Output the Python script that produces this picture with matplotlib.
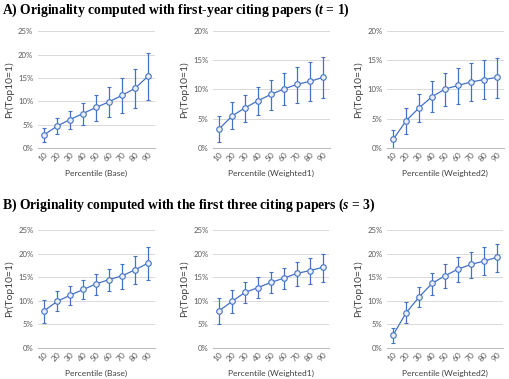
import matplotlib
matplotlib.use("Agg")
import matplotlib.pyplot as plt
from matplotlib.ticker import FuncFormatter
import numpy as np

plt.rcParams['font.family'] = ['Lato', 'DejaVu Sans']
plt.rcParams['mathtext.fontset'] = 'custom'
plt.rcParams['mathtext.it'] = 'Liberation Serif:italic:bold'
plt.rcParams['mathtext.rm'] = 'Liberation Serif:bold'
plt.rcParams['mathtext.bf'] = 'Liberation Serif:bold'

percentiles = ["10", "20", "30", "40", "50", "60", "70", "80", "90"]

# Panel A (t = 1)
a_base = [2.8, 4.7, 6.1, 7.4, 8.7, 9.9, 11.3, 12.8, 15.4]
a_base_lo = [1.3, 3.0, 4.1, 5.0, 5.9, 6.7, 7.6, 8.6, 10.3]
a_base_hi = [4.2, 6.4, 8.0, 9.7, 11.4, 13.1, 15.0, 16.9, 20.3]

a_w1 = [3.3, 5.5, 6.9, 8.1, 9.2, 10.1, 10.9, 11.4, 12.1]
a_w1_lo = [1.0, 3.2, 4.5, 5.7, 6.5, 7.3, 7.7, 8.1, 8.6]
a_w1_hi = [5.5, 7.8, 9.1, 10.5, 11.7, 12.9, 13.8, 14.7, 15.6]

a_w2 = [1.5, 4.7, 6.9, 8.8, 10.1, 10.7, 11.3, 11.7, 12.1]
a_w2_lo = [-0.3, 2.4, 4.4, 6.1, 7.1, 7.6, 8.0, 8.3, 8.5]
a_w2_hi = [3.0, 6.8, 9.3, 11.5, 12.9, 13.7, 14.5, 15.1, 15.4]

# Panel B (s = 3)
b_base = [7.9, 9.9, 11.2, 12.4, 13.6, 14.5, 15.3, 16.6, 18.0]
b_base_lo = [5.4, 7.8, 9.1, 10.3, 11.3, 12.1, 12.6, 13.6, 14.4]
b_base_hi = [10.1, 12.1, 13.2, 14.4, 15.7, 16.8, 17.8, 19.5, 21.5]

b_w1 = [7.9, 9.9, 11.8, 12.8, 13.9, 14.8, 15.8, 16.4, 17.1]
b_w1_lo = [5.0, 7.5, 9.6, 10.6, 11.6, 12.4, 13.1, 13.5, 14.0]
b_w1_hi = [10.5, 12.3, 14.0, 15.0, 16.0, 17.0, 18.3, 19.1, 20.0]

b_w2 = [2.8, 7.5, 10.8, 13.7, 15.3, 16.7, 17.7, 18.4, 19.2]
b_w2_lo = [1.0, 5.3, 8.6, 11.3, 12.8, 14.0, 14.9, 15.4, 16.0]
b_w2_hi = [4.3, 9.7, 13.0, 15.9, 17.7, 19.3, 20.4, 21.3, 22.1]

xlabels = ["Percentile (Base)", "Percentile (Weighted1)", "Percentile (Weighted2)"]

W, H = 509, 379
fig = plt.figure(figsize=(W / 100, H / 100), dpi=100)

BLUE = "#4472C4"
GRAY = "#595959"

def add_panel(left, right, top_px, bot_px, ymax, vals, lo, hi, xlabel):
    ax = fig.add_axes([left / W, (H - bot_px) / H, (right - left) / W, (bot_px - top_px) / H])
    x = np.arange(len(percentiles))
    v = np.array(vals)
    yerr = np.vstack([v - np.array(lo), np.array(hi) - v])
    ax.errorbar(x, v, yerr=yerr, color=BLUE, lw=0.9, ecolor=BLUE, elinewidth=0.9,
                capsize=1.6, capthick=0.9, marker='o', ms=4.0, mfc='#e9eef8',
                mec=BLUE, mew=0.8, zorder=3)
    ax.set_xlim(-0.5, 8.5)
    ax.set_ylim(0, ymax)
    ax.set_yticks(np.arange(0, ymax + 0.1, 5))
    ax.yaxis.set_major_formatter(FuncFormatter(lambda val, p: f"{int(round(val))}%"))
    ax.set_xticks(x)
    ax.set_xticklabels(percentiles, rotation=45, ha='right', rotation_mode='anchor')
    ax.grid(axis='y', color='#d9d9d9', lw=0.7)
    ax.set_axisbelow(True)
    for s in ['top', 'right', 'left']:
        ax.spines[s].set_visible(False)
    ax.spines['bottom'].set_color('#bfbfbf')
    ax.spines['bottom'].set_linewidth(0.8)
    ax.tick_params(axis='both', length=0, labelsize=5.6, colors=GRAY, pad=3)
    ax.tick_params(axis='x', pad=2, labelsize=6.0)
    ax.set_ylabel("Pr(Top10=1)", fontsize=7.4, color='#404040', labelpad=3)
    ax.set_xlabel(xlabel, fontsize=6.1, color='#404040', labelpad=5)
    return ax

# Row A
add_panel(37.5, 154.5, 31.5, 148, 25, a_base, a_base_lo, a_base_hi, xlabels[0])
add_panel(212.8, 329.8, 31, 148, 20, a_w1, a_w1_lo, a_w1_hi, xlabels[1])
add_panel(386.8, 503.8, 31, 148, 20, a_w2, a_w2_lo, a_w2_hi, xlabels[2])
# Row B
add_panel(37.8, 154.8, 230, 348, 25, b_base, b_base_lo, b_base_hi, xlabels[0])
add_panel(212.8, 329.2, 230, 348, 25, b_w1, b_w1_lo, b_w1_hi, xlabels[1])
add_panel(386.8, 503.2, 230, 348, 25, b_w2, b_w2_lo, b_w2_hi, xlabels[2])

fig.text(2 / W, 1 - 10 / H, r"A) Originality computed with first-year citing papers ($t$ = 1)",
         family='Liberation Serif', weight='bold', fontsize=9.8, va='center', ha='left')
fig.text(2 / W, 1 - 205 / H, r"B) Originality computed with the first three citing papers ($s$ = 3)",
         family='Liberation Serif', weight='bold', fontsize=9.8, va='center', ha='left')

fig.savefig("out.png", dpi=100, facecolor='white')
